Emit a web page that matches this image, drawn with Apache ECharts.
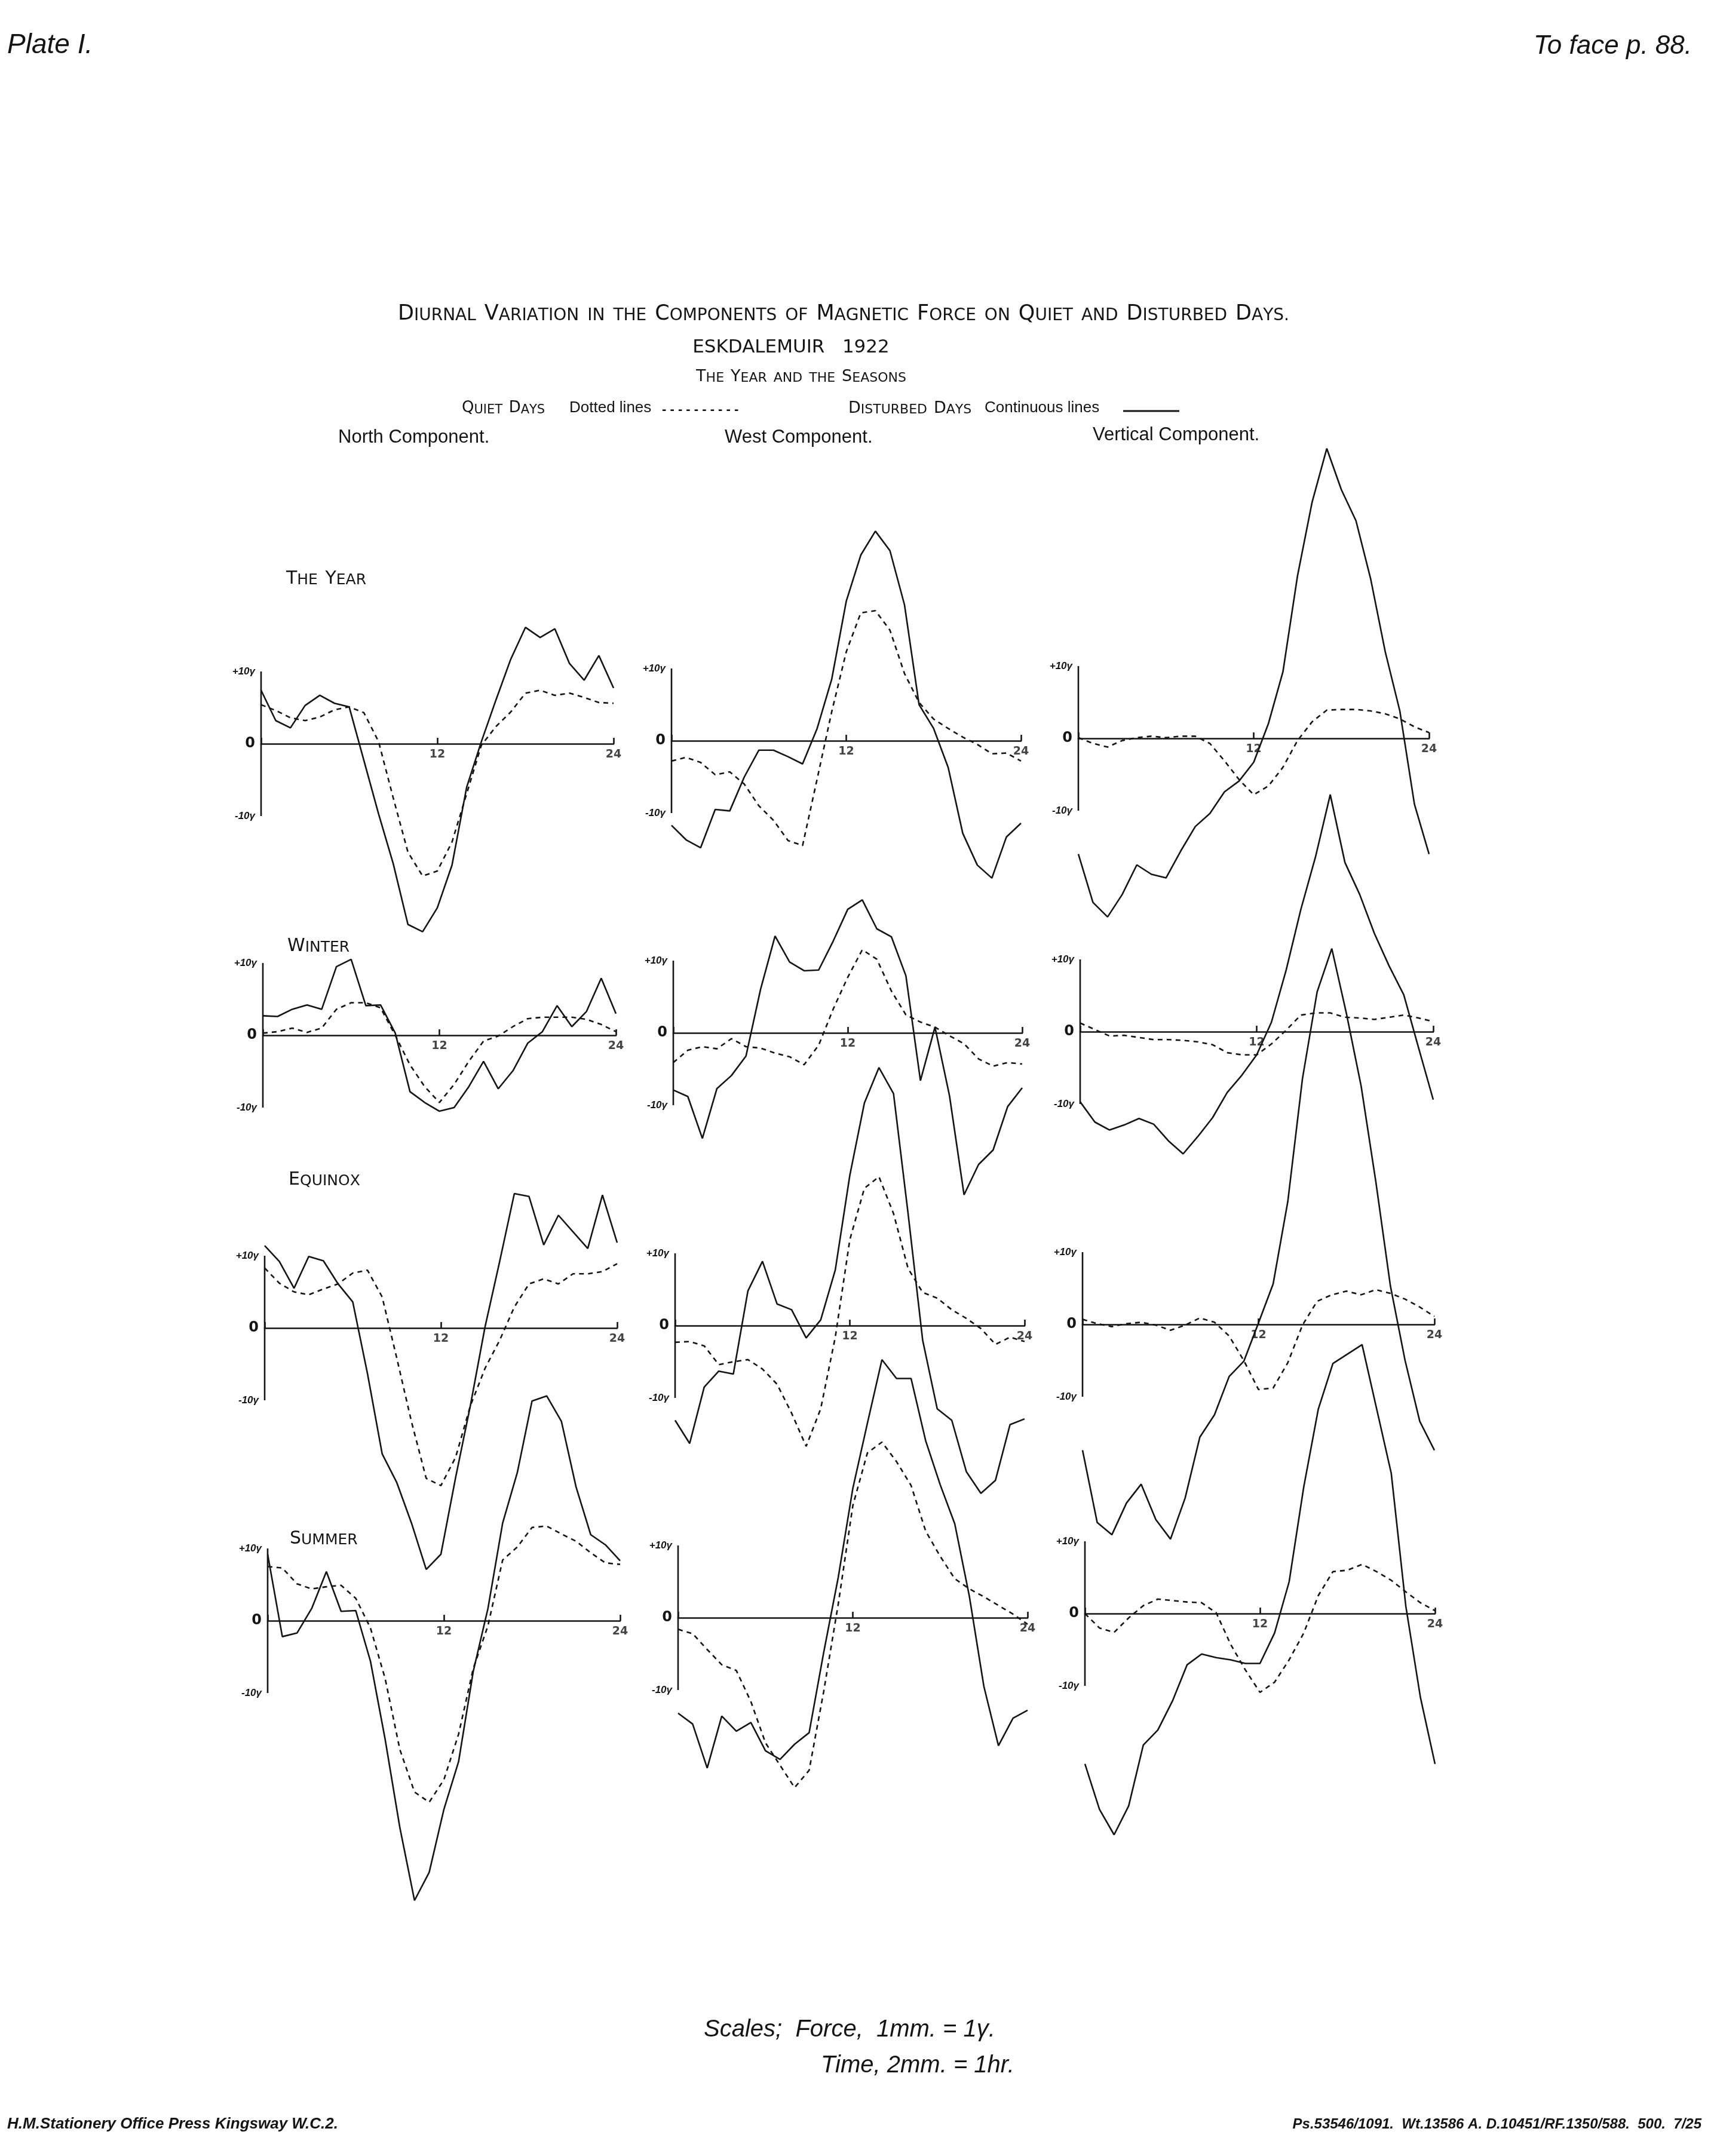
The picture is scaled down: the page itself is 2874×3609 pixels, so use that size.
<!DOCTYPE html>
<html><head><meta charset="utf-8">
<script src="https://cdn.jsdelivr.net/npm/echarts@6/dist/echarts.min.js"></script>
<style>html,body{margin:0;padding:0;background:#fff}#c{width:2874px;height:3609px}</style>
</head><body><div id="c"></div>
<script>
// ---------------- DATA ----------------
const HOURS = [0,1,2,3,4,5,6,7,8,9,10,11,12,13,14,15,16,17,18,19,20,21,22,23,24];
const X_TICKS = [12, 24];
const Y_TICK_LABELS = {10: '+10γ', 0: '0', '-10': '-10γ'};
const Y_AXIS_SPAN = [-10, 10];
const COMPONENTS = ['North Component.', 'West Component.', 'Vertical Component.'];
const SEASONS = ['The Year', 'Winter', 'Equinox', 'Summer'];

// North component (gamma)
const N_YEAR_QUIET      = [5.4,4.6,3.6,3.2,3.7,4.7,5.1,4.3,0.3,-7.5,-15.0,-18.3,-17.6,-13.6,-6.9,-0.2,2.4,4.4,7.0,7.4,6.7,7.0,6.4,5.7,5.6];
const N_YEAR_DISTURBED  = [7.4,3.2,2.2,5.3,6.7,5.6,5.1,-2.3,-9.7,-16.6,-25.0,-26.0,-22.7,-16.8,-6.0,0.3,6.1,11.7,16.1,14.7,15.9,11.1,8.8,12.2,7.7];
const N_WINTER_QUIET    = [0.3,0.5,1.0,0.4,1.0,3.6,4.5,4.5,3.8,0.0,-4.1,-7.1,-9.3,-6.8,-3.6,-0.8,-0.1,1.2,2.3,2.5,2.5,2.5,2.2,1.5,0.5];
const N_WINTER_DISTURBED= [2.7,2.6,3.6,4.2,3.6,9.5,10.5,4.1,4.2,0.3,-7.8,-9.3,-10.5,-10.0,-7.1,-3.6,-7.4,-4.9,-1.1,0.5,4.1,1.2,3.3,7.9,3.0];
const N_EQUINOX_QUIET   = [8.3,6.2,5.0,4.6,5.4,6.1,7.6,8.0,4.3,-4.2,-13.0,-20.8,-21.8,-17.9,-10.8,-5.6,-1.7,2.9,6.1,6.8,6.1,7.5,7.5,7.8,8.9];
const N_EQUINOX_DISTURBED=[11.4,9.2,5.5,9.9,9.3,6.1,3.6,-6.3,-17.4,-21.4,-27.0,-33.4,-31.3,-20.7,-10.8,0.1,9.2,18.6,18.2,11.5,15.6,13.3,11.0,18.4,11.8];
const N_SUMMER_QUIET    = [7.5,7.3,5.1,4.4,4.7,4.9,3.1,-1.0,-8.0,-17.8,-23.7,-25.1,-22.0,-15.7,-6.6,-0.7,8.4,10.2,12.9,13.1,12.0,11.0,9.4,8.0,7.8];
const N_SUMMER_DISTURBED= [9.2,-2.2,-1.7,1.7,6.8,1.3,1.4,-5.6,-16.4,-28.6,-38.7,-34.8,-26.1,-19.5,-7.0,1.7,13.5,20.5,30.4,31.1,27.6,18.5,11.9,10.5,8.3];

// West component (gamma)
const W_YEAR_QUIET      = [-2.8,-2.3,-3.0,-4.7,-4.3,-6.0,-9.0,-11.0,-13.8,-14.5,-5.3,4.0,12.3,17.7,18.0,15.3,9.3,5.3,3.0,1.7,0.5,-0.5,-1.8,-1.7,-2.8];
const W_YEAR_DISTURBED  = [-11.7,-13.7,-14.8,-9.5,-9.7,-5.0,-1.3,-1.3,-2.2,-3.2,1.7,8.5,19.3,25.7,29.0,26.3,18.8,5.0,1.7,-3.7,-12.8,-17.2,-19.0,-13.3,-11.4];
const W_WINTER_QUIET    = [-4.1,-2.4,-1.9,-2.2,-0.8,-1.9,-2.1,-2.8,-3.3,-4.4,-1.7,3.3,7.7,11.5,10.2,5.8,2.5,1.5,0.8,-0.4,-1.5,-3.6,-4.6,-4.1,-4.3];
const W_WINTER_DISTURBED= [-7.9,-8.8,-14.6,-7.7,-5.9,-3.2,6.0,13.4,9.8,8.6,8.7,12.7,17.1,18.4,14.4,13.3,7.9,-6.6,0.8,-8.7,-22.4,-18.2,-16.2,-10.2,-7.6];
const W_EQUINOX_QUIET   = [-2.3,-2.2,-2.8,-5.4,-5.0,-4.7,-6.0,-8.1,-12.1,-16.7,-11.5,-1.6,11.9,19.0,20.6,15.5,7.9,4.6,3.8,2.2,1.0,-0.4,-2.6,-1.6,-2.2];
const W_EQUINOX_DISTURBED=[-13.1,-16.3,-8.5,-6.3,-6.7,4.8,8.9,3.0,2.2,-1.7,0.8,7.7,20.8,30.8,35.7,32.1,15.5,-2.0,-11.5,-13.1,-20.2,-23.2,-21.4,-13.7,-12.9];
const W_SUMMER_QUIET    = [-1.6,-2.2,-4.4,-6.5,-7.3,-11.6,-17.3,-20.4,-23.5,-21.1,-10.2,1.9,15.5,22.8,24.3,21.6,18.3,12.0,8.5,5.4,4.0,2.9,1.7,0.5,-0.9];
const W_SUMMER_DISTURBED= [-13.2,-14.7,-20.8,-13.6,-15.7,-14.5,-18.4,-19.6,-17.5,-15.9,-4.8,5.6,17.9,26.9,35.7,33.1,33.1,24.5,18.4,13.0,3.0,-9.5,-17.7,-13.9,-12.8];

// Vertical component (gamma)
const V_YEAR_QUIET      = [0.1,-0.7,-1.2,-0.3,0.1,0.3,0.1,0.3,0.3,-0.7,-3.1,-5.7,-7.8,-6.6,-4.0,-0.3,2.3,3.9,4.0,4.0,3.8,3.4,2.7,1.6,0.8];
const V_YEAR_DISTURBED  = [-16.0,-22.7,-24.7,-21.6,-17.5,-18.8,-19.3,-15.6,-12.2,-10.4,-7.4,-5.9,-3.3,2.0,9.2,22.5,32.7,40.1,34.4,30.1,22.1,12.0,3.8,-9.1,-16.0];
const V_WINTER_QUIET    = [1.2,0.3,-0.6,-0.5,-0.8,-1.1,-1.1,-1.2,-1.4,-1.8,-2.9,-3.2,-3.2,-1.7,0.2,2.3,2.6,2.6,2.0,1.9,1.7,2.0,2.3,1.9,1.4];
const V_WINTER_DISTURBED= [-9.7,-12.5,-13.6,-12.9,-12.0,-12.8,-15.1,-16.9,-14.5,-11.9,-8.4,-6.0,-3.2,1.3,8.5,16.9,24.2,32.8,23.4,19.0,13.6,9.1,5.1,-2.2,-9.4];
const V_EQUINOX_QUIET   = [0.7,0.1,-0.3,0.1,0.3,-0.1,-0.8,-0.1,0.9,0.3,-1.6,-5.0,-9.0,-8.8,-5.3,-0.1,3.2,4.1,4.6,4.1,4.8,4.3,3.5,2.4,1.1];
const V_EQUINOX_DISTURBED=[-17.4,-27.4,-29.1,-24.7,-22.1,-27.0,-29.7,-24.0,-15.6,-12.5,-7.2,-5.1,0.2,5.6,17.0,34.0,46.0,52.0,43.0,33.0,19.8,5.3,-5.0,-13.4,-17.4];
const V_SUMMER_QUIET    = [0.0,-2.0,-2.6,-0.6,1.1,2.0,1.8,1.6,1.5,0.1,-4.3,-7.8,-10.9,-9.5,-6.4,-2.7,2.5,5.8,6.0,6.8,5.8,4.6,3.0,1.5,0.4];
const V_SUMMER_DISTURBED= [-20.8,-27.1,-30.6,-26.6,-18.2,-16.1,-12.1,-7.1,-5.6,-6.1,-6.4,-6.9,-6.9,-2.7,4.4,17.5,28.3,34.6,35.9,37.2,28.3,19.4,1.0,-11.6,-20.8];

// [row][col] -> [quiet, disturbed]
const PANEL_DATA = [
  [[N_YEAR_QUIET, N_YEAR_DISTURBED], [W_YEAR_QUIET, W_YEAR_DISTURBED], [V_YEAR_QUIET, V_YEAR_DISTURBED]],
  [[N_WINTER_QUIET, N_WINTER_DISTURBED], [W_WINTER_QUIET, W_WINTER_DISTURBED], [V_WINTER_QUIET, V_WINTER_DISTURBED]],
  [[N_EQUINOX_QUIET, N_EQUINOX_DISTURBED], [W_EQUINOX_QUIET, W_EQUINOX_DISTURBED], [V_EQUINOX_QUIET, V_EQUINOX_DISTURBED]],
  [[N_SUMMER_QUIET, N_SUMMER_DISTURBED], [W_SUMMER_QUIET, W_SUMMER_DISTURBED], [V_SUMMER_QUIET, V_SUMMER_DISTURBED]]
];

// ---------------- LAYOUT (pixels) ----------------
// [x of hour 0, x of hour 24, y of zero line]
const LAYOUT = [
  [[437,1027,1245],[1124,1709,1240],[1805,2392,1236]],
  [[440,1031,1733],[1127,1711,1729],[1808,2399,1727]],
  [[443,1033,2223],[1130,1715,2219],[1812,2401,2217]],
  [[448,1038,2713],[1135,1720,2708],[1816,2402,2701]]
];
const PX_PER_GAMMA = 12.1;
const Y_MIN = -60, Y_MAX = 60;
const INK = '#141414';
const SANS = '"DejaVu Sans", "Liberation Sans", sans-serif';
const HAND = '"Liberation Sans", "DejaVu Sans", sans-serif';

const grids = [], xAxes = [], yAxes = [], series = [];
let gi = 0;
LAYOUT.forEach((row, r) => {
  row.forEach((cell, c) => {
    const [x0, x1, zero] = cell;
    grids.push({left: x0, width: x1 - x0, top: zero - Y_MAX * PX_PER_GAMMA,
                height: (Y_MAX - Y_MIN) * PX_PER_GAMMA, containLabel: false});
    xAxes.push({
      gridIndex: gi, type: 'value', min: 0, max: 24, interval: 12,
      axisLine: {onZero: true, lineStyle: {color: INK, width: 2.6}},
      axisTick: {show: true, inside: true, length: 10, lineStyle: {color: INK, width: 2.6}},
      axisLabel: {show: false},
      splitLine: {show: false}
    });
    yAxes.push({
      gridIndex: gi, type: 'value', min: Y_MIN, max: Y_MAX, interval: 10,
      axisLine: {show: false}, axisTick: {show: false}, splitLine: {show: false},
      axisLabel: {margin: 10, color: INK,
                  formatter: v => { const t = Y_TICK_LABELS[v]; return t === undefined ? '' : (v === 0 ? '{z|0}' : '{g|' + t + '}'); },
                  rich: {z: {fontSize: 24, fontWeight: 'bold', fontFamily: SANS, color: INK},
                         g: {fontSize: 17, fontStyle: 'italic', fontWeight: 'bold', fontFamily: HAND, color: INK}}}
    });
    const [quiet, disturbed] = PANEL_DATA[r][c];
    // vertical scale bar from -10γ to +10γ at hour 0
    series.push({
      type: 'line', xAxisIndex: gi, yAxisIndex: gi, silent: true, symbol: 'none',
      data: Y_AXIS_SPAN.map(v => [0, v]), lineStyle: {color: INK, width: 2.6}, clip: false
    });
    // hour labels under the zero line
    series.push({
      type: 'scatter', xAxisIndex: gi, yAxisIndex: gi, silent: true, symbolSize: 1,
      itemStyle: {color: 'rgba(0,0,0,0)'},
      data: X_TICKS.map(h => [h, 0]),
      label: {show: true, position: 'bottom', distance: 8, formatter: p => String(p.value[0]),
              color: INK, fontSize: 19, fontWeight: 'bold', fontFamily: SANS}
    });
    series.push({
      name: 'Quiet', type: 'line', xAxisIndex: gi, yAxisIndex: gi, symbol: 'none', clip: false,
      data: HOURS.map((h, k) => [h, quiet[k]]),
      lineStyle: {color: INK, width: 2.6, type: [8, 7]}
    });
    series.push({
      name: 'Disturbed', type: 'line', xAxisIndex: gi, yAxisIndex: gi, symbol: 'none', clip: false,
      data: HOURS.map((h, k) => [h, disturbed[k]]),
      lineStyle: {color: INK, width: 2.6}
    });
    gi++;
  });
});

// small caps helper: capitals large, lower-case letters rendered as small capitals
function smallCaps(str) {
  let out = '';
  for (const ch of str) {
    if (ch >= 'A' && ch <= 'Z') out += '{b|' + ch + '}';
    else out += '{s|' + (ch === ' ' ? '\u2002' : ch.toUpperCase()) + '}';
  }
  return out;
}
function scText(str, x, y, big, small, align) {
  return {type: 'text', x: x, y: y, silent: true, style: {
    text: smallCaps(str), align: align || 'left', verticalAlign: 'middle', fill: INK,
    rich: {b: {fontSize: big, fontFamily: SANS, fill: INK, verticalAlign: 'bottom', lineHeight: big * 1.2},
           s: {fontSize: small, fontFamily: SANS, fill: INK, verticalAlign: 'bottom', lineHeight: big * 1.2}}
  }};
}
function plain(str, x, y, font, align) {
  return {type: 'text', x: x, y: y, silent: true,
          style: {text: str, font: font, fill: INK, align: align || 'left', verticalAlign: 'middle'}};
}

const SEASON_POS = [[479, 966], [481, 1581], [483, 1972], [485, 2573]];
const COMP_POS = [[566, 732], [1213, 732], [1829, 728]];

const graphics = [
  plain('Plate I.', 12, 76, 'italic 46px ' + HAND),
  plain('To face p. 88.', 2832, 78, 'italic 44px ' + HAND, 'right'),
  scText('Diurnal Variation in the Components of Magnetic Force on Quiet and Disturbed Days.', 1412, 522, 35, 28, 'center'),
  plain('ESKDALEMUIR   1922', 1324, 582, '31px ' + SANS, 'center'),
  scText('The Year and the Seasons', 1341, 628, 27, 22, 'center'),
  scText('Quiet Days', 773, 681, 26, 21),
  plain('Dotted lines', 953, 683, '26px ' + HAND),
  plain('- - - - - - - - - -', 1108, 686, 'bold 22px ' + HAND),
  scText('Disturbed Days', 1420, 681, 27, 22),
  plain('Continuous lines', 1648, 683, '26px ' + HAND),
  {type: 'line', silent: true, shape: {x1: 1880, y1: 688, x2: 1974, y2: 688}, style: {stroke: INK, lineWidth: 3}},
  plain('Scales;  Force,  1mm. = 1γ.', 1178, 3398, 'italic 40px ' + HAND),
  plain('Time, 2mm. = 1hr.', 1374, 3458, 'italic 40px ' + HAND),
  plain('H.M.Stationery Office Press Kingsway W.C.2.', 12, 3556, 'italic bold 26px ' + HAND),
  plain('Ps.53546/1091.  Wt.13586 A. D.10451/RF.1350/588.  500.  7/25', 2848, 3556, 'italic bold 24px ' + HAND, 'right')
];
COMPONENTS.forEach((t, i) => graphics.push(plain(t, COMP_POS[i][0], COMP_POS[i][1], '31px ' + HAND)));
SEASONS.forEach((t, i) => graphics.push(scText(t, SEASON_POS[i][0], SEASON_POS[i][1], 30, 25)));

const chart = echarts.init(document.getElementById('c'), null, {renderer: 'canvas', width: 2874, height: 3609});
chart.setOption({
  backgroundColor: '#ffffff',
  animation: false,
  grid: grids, xAxis: xAxes, yAxis: yAxes, series: series,
  graphic: graphics
});
</script></body></html>
